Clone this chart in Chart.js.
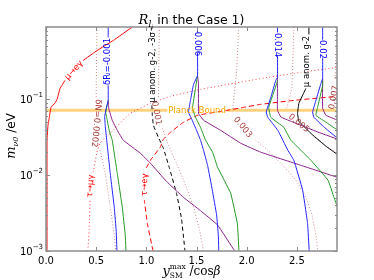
<!DOCTYPE html>
<html>
<head>
<meta charset="utf-8">
<script src="https://cdn.jsdelivr.net/npm/chart.js@4.4.0/dist/chart.umd.min.js"></script>
<style>
  html, body { margin: 0; padding: 0; background: #fff; }
</style>
</head>
<body>
<canvas id="chart" width="374" height="280"></canvas>
<script>
// axes
const xTicks = [0, 0.5, 1.0, 1.5, 2.0, 2.5];
const yTicks = [0.001, 0.01, 0.1];
const yTickExp = ['\u22123', '\u22122', '\u22121'];
const yMinor = [2, 3, 4, 5, 6, 7, 8, 9];
const xRange = [0, 2.9];
const yRange = [0.001, 0.9];

// curves: [x, m_nu0] pairs, null = gap left for the inline label
const planckBound = [[0, 0.0717], [1.21, 0.0717], null, [1.80, 0.0717], [2.9, 0.0717]];

const muEGamma = [[0.01, 0.001], [0.01, 0.0289], [0.02, 0.0455], [0.033, 0.058], [0.05, 0.0785], [0.09, 0.0894],
  [0.113, 0.102], [0.14, 0.1395], [0.19, 0.178], null, [0.37, 0.326], [0.51, 0.442], [0.67, 0.597], [0.86, 0.9]];
const tauMuGamma = [[0.417, 0.001], [0.43, 0.0019], [0.44, 0.0047], null, [0.47, 0.0109], [0.507, 0.0201], [0.54, 0.0264],
  [0.64, 0.0357], [0.84, 0.0655], [1.04, 0.0885], [1.24, 0.1095], [1.54, 0.1355], [1.87, 0.1625], [2.21, 0.195],
  [2.54, 0.227], [2.9, 0.264]];
const tauEGamma = [[1.067, 0.001], [1.01, 0.0023], [0.98, 0.0047], null, [1.0, 0.0124], [1.04, 0.0157], [1.14, 0.0235],
  [1.17, 0.0298], [1.24, 0.0368], [1.37, 0.0498], [1.51, 0.0616], [1.81, 0.0717], [1.97, 0.0785], [2.14, 0.0859],
  [2.47, 0.097], [2.9, 0.1095]];

const muG2 = [[2.62, 0.9], [2.62, 0.716], null, [2.59, 0.1395], [2.52, 0.0885], [2.507, 0.0655], [2.52, 0.0514],
  [2.65, 0.0346], [2.79, 0.0241], [2.9, 0.0189]];
const muG2Minus3s = [[1.05, 0.9], [1.05, 0.81], null, [1.055, 0.0834], [1.06, 0.0616], [1.07, 0.0455], [1.12, 0.0316],
  [1.17, 0.0226], [1.23, 0.0124], [1.30, 0.0058], [1.35, 0.0027], [1.385, 0.001]];

const dR001Blue = [[0.62, 0.9], [0.62, 0.655], null, [0.62, 0.153], [0.62, 0.097], [0.60, 0.0762], [0.585, 0.0598],
  [0.59, 0.0455], [0.605, 0.0289], [0.64, 0.0106], [0.68, 0.0038], [0.70, 0.0018], [0.707, 0.001]];
const dR001Green = [[0.62, 0.097], [0.595, 0.0675], [0.61, 0.053], [0.63, 0.0391], [0.66, 0.0289], [0.71, 0.0106],
  [0.76, 0.0038], [0.79, 0.00162], [0.797, 0.001]];
const dR001Purple = [[0.62, 0.097], [0.625, 0.0762], [0.66, 0.053], [0.71, 0.0391], [0.77, 0.0289], [0.94, 0.0195],
  [1.04, 0.0144], [1.20, 0.0083], [1.37, 0.0051], [1.54, 0.0034], [1.71, 0.0022], [1.88, 0.001]];

const dR006Blue = [[1.51, 0.9], [1.51, 0.762], null, [1.51, 0.415], [1.51, 0.207], [1.47, 0.157], [1.44, 0.097],
  [1.42, 0.0675], [1.457, 0.053], [1.50, 0.0391], [1.54, 0.0289], [1.57, 0.0213], [1.61, 0.0135], [1.657, 0.0064],
  [1.70, 0.003], [1.717, 0.00162], [1.722, 0.001]];
const dR006Green = [[1.51, 0.207], [1.49, 0.1395], [1.46, 0.0762], [1.49, 0.058], [1.54, 0.0428], [1.59, 0.0289],
  [1.66, 0.0201], [1.71, 0.0127], [1.84, 0.0058], [1.907, 0.0023], [1.923, 0.001]];
const dR006Purple = [[1.51, 0.207], [1.52, 0.1625], [1.52, 0.0655], [1.57, 0.053], [1.74, 0.0391], [1.94, 0.0264],
  [2.14, 0.0201], [2.54, 0.0135], [2.9, 0.0094]];

const dR014Blue = [[2.307, 0.9], [2.307, 0.785], null, [2.307, 0.379], [2.307, 0.195], [2.29, 0.178], [2.24, 0.106],
  [2.195, 0.068], [2.21, 0.058], [2.31, 0.0391], [2.41, 0.0213], [2.47, 0.0157], [2.557, 0.0064], [2.607, 0.0023],
  [2.623, 0.001]];
const dR014Green = [[2.307, 0.178], [2.30, 0.1625], [2.22, 0.0785], [2.24, 0.058], [2.37, 0.0428], [2.44, 0.0289],
  [2.54, 0.0213], [2.64, 0.0157], [2.81, 0.0086], [2.87, 0.0051], [2.907, 0.0037]];
const dR014Purple = [[2.307, 0.195], [2.307, 0.0717], [2.34, 0.0585], [2.44, 0.0514], [2.54, 0.0455], [2.69, 0.0379],
  [2.907, 0.0298]];

const dR02Blue = [[2.757, 0.9], [2.757, 0.635], null, [2.757, 0.357], [2.757, 0.189], [2.74, 0.1625], [2.69, 0.097],
  [2.657, 0.068], [2.67, 0.058], [2.77, 0.0432], [2.89, 0.0319], [2.907, 0.031]];
const dR02Green = [[2.757, 0.178], [2.757, 0.153], [2.707, 0.0792], [2.69, 0.0616], [2.807, 0.0483], [2.907, 0.0391]];
const dR02Purple = [[2.757, 0.189], [2.757, 0.0762], [2.79, 0.0616], [2.907, 0.053]];

const dN0002 = [[0.507, 0.9], [0.50, 0.106], null, [0.54, 0.0213], [0.59, 0.0106], [0.64, 0.0038], [0.68, 0.00162],
  [0.695, 0.001]];
const dN001 = [[1.13, 0.9], [1.12, 0.106], null, [1.16, 0.0415], [1.22, 0.0248], [1.30, 0.0144], [1.39, 0.0074],
  [1.47, 0.0038], [1.53, 0.0019], [1.57, 0.001]];
const dN003 = [[1.92, 0.9], [1.90, 0.241], [1.86, 0.0717], null, [2.09, 0.0289], [2.21, 0.0213], [2.34, 0.0144],
  [2.49, 0.0086], [2.59, 0.0051], [2.65, 0.003], [2.69, 0.00162], [2.707, 0.001]];
const dN005 = [[2.47, 0.9], [2.45, 0.144], [2.40, 0.0762], null, [2.67, 0.0326], [2.79, 0.0241], [2.907, 0.0195]];
const dN007 = [[2.90, 0.9], [2.88, 0.178], null, [2.89, 0.0616], [2.907, 0.0498]];

// inline labels: text, x, m_nu0, angle (deg), colour
const curveLabels = [
  ['\u03bc\u2192e\u03b3', 0.28, 0.241, -48, '#ff0000'],
  ['\u03c4\u2192\u03bc\u03b3', 0.445, 0.0072, -86, '#ff0000'],
  ['\u03c4\u2192e\u03b3', 0.985, 0.0075, -88, '#ff0000'],
  ['\u03bc anom. g-2, -3\u03c3', 1.06, 0.264, -90, '#000000'],
  ['\u03bc anom. g-2', 2.60, 0.316, -90, '#000000'],
  ['\u03b4R\u2097=-0.001', 0.62, 0.316, -90, '#0000ff'],
  ['-0.006', 1.51, 0.562, 90, '#0000ff'],
  ['-0.014', 2.307, 0.545, 90, '#0000ff'],
  ['-0.02', 2.757, 0.476, 90, '#0000ff'],
  ['\u03b4N=0.0002', 0.50, 0.0483, 95, '#a83c3c'],
  ['0.001', 1.10, 0.0655, 80, '#a83c3c'],
  ['0.003', 1.96, 0.0428, 50, '#a83c3c'],
  ['0.005', 2.52, 0.0483, 38, '#a83c3c'],
  ['0.007', 2.87, 0.106, -80, '#a83c3c'],
  ['Planck Bound', 1.505, 0.0717, 0, '#ffa500']
];

const BLUE = '#2222ff', GREEN = '#229922', PURPLE = '#8b1f8b', BROWN = 'rgba(170,50,50,0.55)';

function pts(arr) {
  return arr.map(p => p ? { x: p[0], y: p[1] } : { x: NaN, y: NaN });
}
function curve(arr, color, width, dash) {
  return {
    data: pts(arr), borderColor: color, borderWidth: width, borderDash: dash || [],
    showLine: true, pointRadius: 0, fill: false, tension: 0.08, spanGaps: false
  };
}

// first dataset is drawn on top
const datasets = [
  curve(dR001Blue, BLUE, 1), curve(dR006Blue, BLUE, 1), curve(dR014Blue, BLUE, 1), curve(dR02Blue, BLUE, 1),
  curve(dR001Green, GREEN, 1), curve(dR006Green, GREEN, 1), curve(dR014Green, GREEN, 1), curve(dR02Green, GREEN, 1),
  curve(dR001Purple, PURPLE, 1), curve(dR006Purple, PURPLE, 1), curve(dR014Purple, PURPLE, 1), curve(dR02Purple, PURPLE, 1),
  curve(muG2, '#000', 1), curve(muG2Minus3s, '#000', 1, [4, 3]),
  curve(muEGamma, '#ff0000', 1), curve(tauEGamma, '#ff0000', 1, [5, 3]),
  curve(tauMuGamma, 'rgba(255,0,0,0.75)', 1, [1, 2.5]),
  curve(dN0002, BROWN, 1, [1, 2]), curve(dN001, BROWN, 1, [1, 2]), curve(dN003, BROWN, 1, [1, 2]),
  curve(dN005, BROWN, 1, [1, 2]), curve(dN007, BROWN, 1, [1, 2]),
  curve(planckBound, 'rgba(255,165,0,0.5)', 3)
];

function drawSegs(ctx, segs, cx, baseline) {
  let w = 0, last = 0;
  const xs = [];
  for (const s of segs) {
    ctx.font = s.f;
    const sw = ctx.measureText(s.t).width;
    const x0 = s.stack ? last : w;
    xs.push(x0);
    if (!s.stack) last = w;
    w = Math.max(w, x0 + sw);
  }
  let start = cx - w / 2;
  segs.forEach((s, i) => {
    ctx.font = s.f;
    ctx.fillText(s.t, start + xs[i], baseline + (s.dy || 0));
  });
}

const decor = {
  id: 'decor',
  afterDatasetsDraw(chart) {
    const { ctx, chartArea: a, scales: { x, y } } = chart;
    ctx.save();
    // inline contour labels
    ctx.textAlign = 'center';
    ctx.textBaseline = 'middle';
    ctx.font = '8.5px "DejaVu Sans"';
    for (const [t, vx, vy, rot, col] of curveLabels) {
      ctx.save();
      ctx.translate(x.getPixelForValue(vx), y.getPixelForValue(vy));
      ctx.rotate(rot * Math.PI / 180);
      ctx.fillStyle = col;
      ctx.fillText(t, 0, 0);
      ctx.restore();
    }
    // ticks (inward, all sides)
    ctx.strokeStyle = '#8c8c8c';
    ctx.lineWidth = 1;
    ctx.beginPath();
    xTicks.forEach(v => {
      const px = Math.round(x.getPixelForValue(v)) + 0.5;
      ctx.moveTo(px, a.bottom); ctx.lineTo(px, a.bottom - 4);
      ctx.moveTo(px, a.top); ctx.lineTo(px, a.top + 4);
    });
    yTicks.forEach(d => {
      [1, ...yMinor].forEach(m => {
        const v = d * m;
        if (v > yRange[1]) return;
        const len = m === 1 ? 4 : 2;
        const py = Math.round(y.getPixelForValue(v)) + 0.5;
        ctx.moveTo(a.left, py); ctx.lineTo(a.left + len, py);
        ctx.moveTo(a.right, py); ctx.lineTo(a.right - len, py);
      });
    });
    ctx.stroke();
    ctx.lineWidth = 1.5;
    ctx.strokeRect(a.left, a.top, a.right - a.left, a.bottom - a.top);

    // y tick labels 10^n
    ctx.fillStyle = '#000';
    ctx.textBaseline = 'alphabetic';
    ctx.textAlign = 'left';
    yTicks.forEach((v, i) => {
      const py = y.getPixelForValue(v);
      ctx.font = '10px "DejaVu Sans"';
      const bw = ctx.measureText('10').width;
      ctx.font = '7px "DejaVu Sans"';
      const ew = ctx.measureText(yTickExp[i]).width;
      const x0 = a.left - 3 - bw - ew;
      ctx.font = '10px "DejaVu Sans"';
      ctx.fillText('10', x0, py + 4);
      ctx.font = '7px "DejaVu Sans"';
      ctx.fillText(yTickExp[i], x0 + bw, py - 2);
    });

    // title
    const cx = (a.left + a.right) / 2;
    drawSegs(ctx, [
      { t: 'R', f: 'italic 13px "DejaVu Serif"' },
      { t: 'l', f: 'italic 9px "DejaVu Serif"', dy: 3 },
      { t: 'i', f: 'italic 6px "DejaVu Serif"', dy: 5 },
      { t: ' in the Case 1)', f: '12.5px "DejaVu Sans"' }
    ], cx, 24);

    // x axis label
    drawSegs(ctx, [
      { t: 'y', f: 'italic 13px "DejaVu Serif"' },
      { t: 'SM', f: '7.5px "DejaVu Serif"', dy: 3 },
      { t: 'max', f: '7.5px "DejaVu Serif"', dy: -6, stack: true },
      { t: ' /cos', f: '12px "DejaVu Serif"' },
      { t: '\u03b2', f: 'italic 12px "DejaVu Serif"' }
    ], cx, 275);

    // y axis label
    ctx.save();
    ctx.translate(15, 136);
    ctx.rotate(-Math.PI / 2);
    drawSegs(ctx, [
      { t: 'm', f: 'italic 13px "DejaVu Serif"' },
      { t: '\u03bd0', f: 'italic 8px "DejaVu Serif"', dy: 3 },
      { t: ' /eV', f: '12px "DejaVu Sans"' }
    ], 0, 0);
    ctx.restore();
    ctx.restore();
  }
};

new Chart(document.getElementById('chart'), {
  type: 'scatter',
  data: { datasets },
  options: {
    responsive: false,
    animation: false,
    devicePixelRatio: 1,
    layout: { padding: { top: 27, right: 37, left: 0, bottom: 0 } },
    plugins: { legend: { display: false }, tooltip: { enabled: false } },
    scales: {
      x: {
        type: 'linear', min: xRange[0], max: xRange[1],
        afterFit(s) { s.height = 29; },
        afterBuildTicks(s) { s.ticks = xTicks.map(v => ({ value: v })); },
        grid: { display: false, drawTicks: false },
        border: { display: false },
        ticks: {
          autoSkip: false, maxRotation: 0, padding: 4, color: '#000',
          font: { family: 'DejaVu Sans', size: 10 },
          callback: v => v.toFixed(1)
        }
      },
      y: {
        type: 'logarithmic', min: yRange[0], max: yRange[1],
        afterFit(s) { s.width = 46; },
        grid: { display: false, drawTicks: false },
        border: { display: false },
        ticks: { display: false }
      }
    }
  },
  plugins: [decor]
});
</script>
</body>
</html>
